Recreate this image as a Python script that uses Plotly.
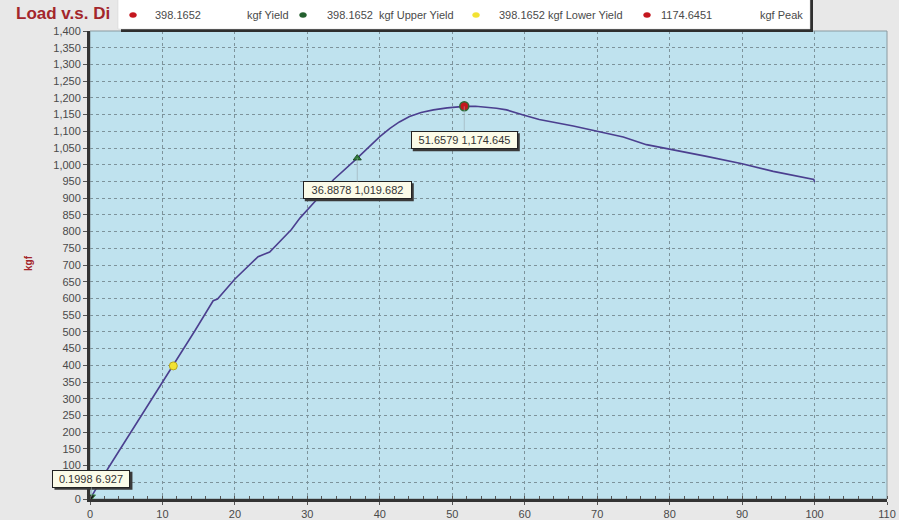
import plotly.graph_objects as go

# Load–displacement curve (displacement in mm, load in kgf)
disp = [0.0, 0.1998, 2.5, 11.5, 14.5, 17.0, 17.6, 20.0, 23.2, 24.8, 27.8, 29.0,
        31.3, 33.6, 36.8878, 40.0, 41.4, 42.7, 44.1, 45.7, 47.4, 49.3, 51.6579,
        53.2, 54.7, 56.1, 57.5, 58.7, 59.8, 62.0, 64.8, 66.7, 70.0, 73.6, 76.8,
        80.0, 85.1, 90.0, 94.3, 99.9, 100.0]
load = [0.0, 6.927, 92, 398.1652, 504, 593, 598, 658, 725, 739, 806, 841,
        896, 955, 1019.682, 1084, 1109, 1128, 1144, 1156, 1164, 1170, 1174.645,
        1175, 1173, 1169, 1164, 1157, 1149, 1135, 1125, 1116, 1100, 1083, 1060,
        1047, 1025, 1003, 980, 956, 948]

# Characteristic points
start_pt = (0.1998, 6.927)
lower_yield_pt = (11.5, 398.1652)
mark_pt = (36.8878, 1019.682)
peak_pt = (51.6579, 1174.645)

yield_val = 398.1652
upper_yield_val = 398.1652
lower_yield_val = 398.1652
peak_val = 1174.6451

x_ticks = list(range(0, 111, 10))
y_ticks = list(range(0, 1401, 50))
# the "50" label sits underneath the start-point value box
y_ticktext = ["" if v == 50 else f"{v:,}" for v in y_ticks]

X_MAX, Y_MAX = 110, 1400

# plot area in pixels
L, R, T, B = 90, 887, 31, 499
W, H = R - L, B - T


def px(x):
    return (x - L) / W


def py(y):
    return (B - y) / H


def data_to_px(x, y):
    return L + x * W / X_MAX, B - y * H / Y_MAX


FONT = "Liberation Sans, Arial, sans-serif"
TXT = "#4a4a4a"
DARKRED = "#a3262b"

fig = go.Figure()

fig.add_trace(go.Scatter(
    x=disp, y=load, mode="lines",
    line=dict(color="#4b3f8f", width=1.6),
    hoverinfo="skip", showlegend=False,
))

fig.add_trace(go.Scatter(
    x=[start_pt[0]], y=[start_pt[1]], mode="markers",
    marker=dict(symbol="triangle-down", size=7, color="#1b1b1b",
                line=dict(color="#3c8c4c", width=1)),
    cliponaxis=False, showlegend=False,
))
fig.add_trace(go.Scatter(
    x=[lower_yield_pt[0]], y=[lower_yield_pt[1]], mode="markers",
    marker=dict(symbol="circle", size=8, color="#f2e233",
                line=dict(color="#b8a820", width=1)),
    showlegend=False,
))
fig.add_trace(go.Scatter(
    x=[mark_pt[0]], y=[mark_pt[1]], mode="markers",
    marker=dict(symbol="triangle-up", size=7, color="#2f7d3a",
                line=dict(color="#1d4d24", width=1)),
    showlegend=False,
))
fig.add_trace(go.Scatter(
    x=[peak_pt[0]], y=[peak_pt[1]], mode="markers",
    marker=dict(symbol="circle", size=9, color="#c4171e",
                line=dict(color="#2f6b36", width=1.5)),
    showlegend=False,
))

shapes = []
annotations = []

# plot frame (right / top)
shapes.append(dict(type="rect", xref="paper", yref="paper", x0=0, x1=1, y0=0, y1=1,
                   line=dict(color="#8a9aa0", width=1), layer="below"))

# point value labels: cream box with a dark drop shadow
BOX_H = 12
BOX_PAD = 2


def value_label(pt, ay, width):
    text = f"{pt[0]:.4f} {pt[1]:,.3f}"
    cx, cy = data_to_px(*pt)
    cy += ay
    half_w = width / 2 + BOX_PAD + 1
    half_h = BOX_H / 2 + BOX_PAD + 1
    shapes.append(dict(type="rect", xref="paper", yref="paper",
                       x0=px(cx - half_w + 2), x1=px(cx + half_w + 2),
                       y0=py(cy + half_h + 2), y1=py(cy - half_h + 2),
                       fillcolor="#3a3a3a", line=dict(width=0)))
    annotations.append(dict(x=pt[0], y=pt[1], xref="x", yref="y", text=text,
                            showarrow=True, ax=0, ay=ay, arrowhead=0,
                            arrowwidth=0.6, arrowcolor="#9aaab0",
                            width=width, height=BOX_H, borderpad=BOX_PAD,
                            align="center", bgcolor="#fbfbe8",
                            bordercolor="#222222", borderwidth=1,
                            font=dict(family=FONT, size=11, color="#333333")))


value_label(start_pt, -18, 72)
value_label(mark_pt, 32, 103)
value_label(peak_pt, 34, 101)

# title
annotations.append(dict(text="<b>Load v.s. Di</b>", xref="paper", yref="paper",
                        x=px(14), y=py(14), xanchor="left", yanchor="middle",
                        showarrow=False, font=dict(family=FONT, size=17, color=DARKRED)))

# y-axis title
annotations.append(dict(text="<b>kgf</b>", xref="paper", yref="paper",
                        x=px(28), y=py(263), xanchor="center", yanchor="middle",
                        textangle=-90, showarrow=False,
                        font=dict(family=FONT, size=10, color=DARKRED)))

# legend box with shadow
shapes.append(dict(type="rect", xref="paper", yref="paper",
                   x0=px(121), x1=px(813), y0=py(32), y1=py(-2),
                   fillcolor="#2e2e2e", line=dict(width=0)))
shapes.append(dict(type="rect", xref="paper", yref="paper",
                   x0=px(118), x1=px(810), y0=py(29), y1=py(-4),
                   fillcolor="#ffffff", line=dict(color="#d0d0d0", width=0.5)))

legend_y = 15
dots = [(133, "#c4171e"), (303, "#24602e"), (476, "#f2e233"), (647, "#c4171e")]
for cx, col in dots:
    shapes.append(dict(type="circle", xref="paper", yref="paper",
                       x0=px(cx - 3.5), x1=px(cx + 3.5),
                       y0=py(legend_y + 2.5), y1=py(legend_y - 2.5),
                       fillcolor=col, line=dict(color=col, width=0.5)))

legend_texts = [
    (153, f"{yield_val:.4f}"),
    (245, "kgf Yield"),
    (325, f"{upper_yield_val:.4f}  kgf Upper Yield"),
    (497, f"{lower_yield_val:.4f} kgf Lower Yield"),
    (659, f"{peak_val:.4f}"),
    (758, "kgf Peak"),
]
for lx, t in legend_texts:
    annotations.append(dict(text=t, xref="paper", yref="paper",
                            x=px(lx), y=py(legend_y), xanchor="left", yanchor="middle",
                            showarrow=False, font=dict(family=FONT, size=11, color=TXT)))

grid = dict(showgrid=True, gridcolor="#7d939b", gridwidth=1, griddash="3px,3px")

fig.update_layout(
    width=899, height=520,
    margin=dict(l=L, r=899 - R, t=T, b=520 - B),
    paper_bgcolor="#e8e8e8",
    plot_bgcolor="#bfe2ee",
    showlegend=False,
    shapes=shapes,
    annotations=annotations,
    xaxis=dict(range=[0, X_MAX], tickvals=x_ticks, ticktext=[str(v) for v in x_ticks],
               ticks="outside", ticklen=3, tickcolor="#555555",
               minor=dict(dtick=2, ticks="inside", ticklen=3, tickcolor="#555555", showgrid=False),
               showline=True, linewidth=3, linecolor="#333333",
               tickfont=dict(family=FONT, size=11, color=TXT),
               zeroline=False, automargin=False, fixedrange=True, **grid),
    yaxis=dict(range=[0, Y_MAX], tickvals=y_ticks, ticktext=y_ticktext,
               ticks="outside", ticklen=4, tickcolor="#555555",
               showline=True, linewidth=3, linecolor="#333333",
               tickfont=dict(family=FONT, size=11, color=TXT),
               zeroline=False, automargin=False, fixedrange=True, **grid),
)

fig.write_html("out.html")
